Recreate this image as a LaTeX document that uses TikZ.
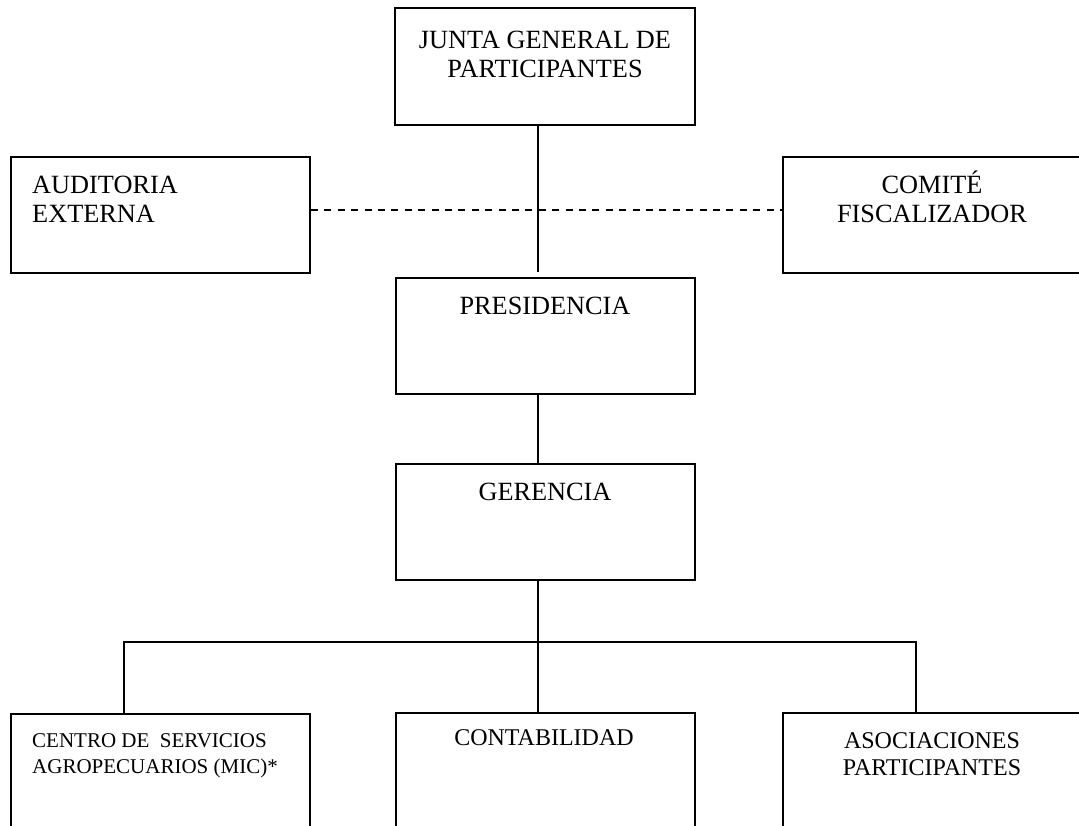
\documentclass[tikz,border=0pt]{standalone}
\usepackage{fontspec}
\setmainfont{Liberation Serif}
\begin{document}
\begin{tikzpicture}[x=1pt,y=-1pt,
  box/.style={draw=black, line width=1.8pt, rectangle, inner sep=0pt, minimum width=299pt, minimum height=116pt},
  big/.style={inner sep=0pt, anchor=base, align=center, font=\fontsize{26.3}{29}\selectfont},
  mid/.style={inner sep=0pt, anchor=base, align=center, font=\fontsize{24}{27}\selectfont},
  small/.style={inner sep=0pt, anchor=base west, align=left, font=\fontsize{21}{26}\selectfont},
  conn/.style={line width=1.8pt, draw=black},
  dconn/.style={line width=1.8pt, draw=black, dash pattern=on 7pt off 6.4pt}]
\useasboundingbox (0,0) rectangle (1079,825);
\clip (0,0) rectangle (1079,825);
% boxes
\node[box, minimum width=300pt, minimum height=117pt] (junta) at (545,66.5) {};
\node[box] (audit) at (160.5,215) {};
\node[box, minimum width=300pt] (comite) at (933,215) {};
\node[box] (pres) at (545.5,336) {};
\node[box] (ger) at (545.5,522) {};
\node[box] (centro) at (160.5,772) {};
\node[box] (conta) at (545.5,771) {};
\node[box, minimum width=300pt] (asoc) at (933,771) {};
% texts (base anchor = baseline of last line)
\node[big] (tjunta) at (545,77) {JUNTA GENERAL DE\\PARTICIPANTES};
\node[big, anchor=base west, align=left] (taudit) at (32,222) {AUDITORIA\\EXTERNA};
\node[big] (tcomite) at (932,222) {COMITÉ\\FISCALIZADOR};
\node[big] (tpres) at (545,314) {PRESIDENCIA};
\node[big] (tger) at (545,500) {GERENCIA};
\node[mid] (tconta) at (544,745) {CONTABILIDAD};
\node[mid] (tasoc) at (932,775) {ASOCIACIONES\\PARTICIPANTES};
\node[small] (tcentro) at (32,773) {CENTRO DE\ \ SERVICIOS\\AGROPECUARIOS (MIC)*};
% connector coordinates
\coordinate (spine) at (538,642);
\coordinate (b1) at (124,642);
\coordinate (b3) at (916,642);
% connectors
\draw[conn] (junta.south -| spine) -- ([yshift=5pt]pres.north -| spine);
\draw[dconn] ([yshift=5pt]audit.east) -- ([yshift=5pt]comite.west);
\draw[conn] (pres.south -| spine) -- (ger.north -| spine);
\draw[conn] (ger.south -| spine) -- (spine);
\draw[conn] (centro.north -| b1) -- (b1) -- (b3) -- (asoc.north -| b3);
\draw[conn] (spine) -- (conta.north -| spine);
\end{tikzpicture}
\end{document}
